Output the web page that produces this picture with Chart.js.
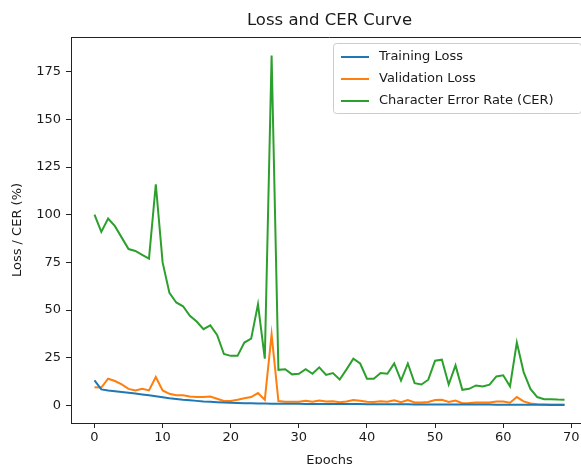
<!DOCTYPE html>
<html>
<head>
<meta charset="utf-8">
<script src="https://cdn.jsdelivr.net/npm/chart.js@4"></script>
<style>
  html, body { margin: 0; padding: 0; background: #ffffff; overflow: hidden; }
  #wrap { position: relative; width: 588px; height: 464px; }
</style>
</head>
<body>
<div id="wrap"><canvas id="c"></canvas></div>
<script>
// ---- data ----
const epochs = [0,1,2,3,4,5,6,7,8,9,10,11,12,13,14,15,16,17,18,19,20,21,22,23,24,25,26,27,28,29,30,31,32,33,34,35,36,37,38,39,40,41,42,43,44,45,46,47,48,49,50,51,52,53,54,55,56,57,58,59,60,61,62,63,64,65,66,67,68,69];
const trainingLoss = [13.1,8.4,7.9,7.5,7.1,6.7,6.3,5.8,5.3,4.8,4.3,3.8,3.4,3.0,2.7,2.4,2.1,1.9,1.7,1.5,1.4,1.3,1.2,1.1,1.0,1.0,0.9,0.9,0.9,0.85,0.85,0.8,0.8,0.8,0.75,0.75,0.7,0.7,0.7,0.7,0.65,0.65,0.65,0.6,0.6,0.6,0.6,0.55,0.55,0.55,0.55,0.5,0.5,0.5,0.5,0.45,0.45,0.45,0.45,0.4,0.4,0.4,0.4,0.4,0.35,0.35,0.35,0.3,0.3,0.3];
const validationLoss = [9.6,9.4,14.0,12.8,11.0,8.7,7.9,8.7,7.9,14.9,7.9,6.1,5.3,5.3,4.7,4.4,4.4,4.7,3.5,2.3,2.3,3.0,3.8,4.4,6.5,3.0,37.3,2.3,2.0,1.9,2.0,2.4,2.0,2.6,2.1,2.2,1.7,2.1,2.8,2.5,1.9,1.8,2.2,2.0,2.7,1.7,2.8,1.6,1.5,1.8,2.9,3.0,1.8,2.6,1.2,1.3,1.5,1.5,1.6,2.1,2.1,1.4,4.4,2.1,1.0,0.6,0.5,0.5,0.5,0.5];
const cer = [100,91,98,94,88,82,81,79,77,116,75,59,54,52,47,44,40,42,37,27,26,26,33,35,53,24.5,183.5,18.7,19,16.3,16.6,19,16.6,20,16,17,13.6,18.9,24.5,22,14,14,17,16.6,22,13,22,11.7,11,13.5,23.5,24,11,21,8.2,8.7,10.5,10,10.9,15.2,15.8,10,33,17.5,8.7,4.4,3.3,3.3,3.1,3.0];
const xTicks = [0,10,20,30,40,50,60,70];
const yTicks = [0,25,50,75,100,125,150,175];
const seriesNames = ['Training Loss','Validation Loss','Character Error Rate (CER)'];
const seriesColors = ['#1f77b4','#ff7f0e','#2ca02c'];

const FONT = "'DejaVu Sans', sans-serif";
const TEXT = '#1a1a1a';

function pts(vals) { return epochs.map((e, i) => ({ x: e, y: vals[i] })); }

const framePlugin = {
  id: 'frame',
  afterDraw(chart) {
    const { ctx, chartArea: a } = chart;
    ctx.save();
    ctx.strokeStyle = '#222';
    ctx.lineWidth = 1;
    ctx.beginPath();
    ctx.moveTo(a.left, a.top + 0.5);
    ctx.lineTo(a.right, a.top + 0.5);
    ctx.moveTo(a.right - 0.5, a.top);
    ctx.lineTo(a.right - 0.5, a.bottom);
    ctx.stroke();
    ctx.restore();
  }
};

const legendPlugin = {
  id: 'mplLegend',
  afterDraw(chart) {
    const { ctx, chartArea: a } = chart;
    const right = a.right - 7, top = a.top + 6, w = 248, h = 70;
    const left = right - w;
    ctx.save();
    ctx.fillStyle = 'rgba(255,255,255,0.8)';
    ctx.strokeStyle = '#cccccc';
    ctx.lineWidth = 1;
    ctx.beginPath();
    ctx.roundRect(left + 0.5, top + 0.5, w, h, 3);
    ctx.fill();
    ctx.stroke();
    ctx.font = '13px ' + FONT;
    ctx.textBaseline = 'middle';
    chart.data.datasets.forEach((ds, i) => {
      const y = top + 14 + i * 22;
      ctx.strokeStyle = ds.borderColor;
      ctx.lineWidth = 2;
      ctx.beginPath();
      ctx.moveTo(left + 8, y);
      ctx.lineTo(left + 36, y);
      ctx.stroke();
      ctx.fillStyle = TEXT;
      ctx.fillText(ds.label, left + 46, y);
    });
    ctx.restore();
  }
};

new Chart(document.getElementById('c'), {
  type: 'line',
  data: {
    datasets: [
      { label: seriesNames[0], data: pts(trainingLoss), borderColor: seriesColors[0], backgroundColor: seriesColors[0] },
      { label: seriesNames[1], data: pts(validationLoss), borderColor: seriesColors[1], backgroundColor: seriesColors[1] },
      { label: seriesNames[2], data: pts(cer), borderColor: seriesColors[2], backgroundColor: seriesColors[2] }
    ]
  },
  options: {
    responsive: true,
    maintainAspectRatio: false,
    animation: false,
    devicePixelRatio: 1,
    elements: {
      point: { radius: 0, hoverRadius: 0 },
      line: { borderWidth: 2, tension: 0 }
    },
    layout: { padding: 0 },
    plugins: {
      legend: { display: false },
      tooltip: { enabled: false },
      title: {
        display: true,
        fullSize: false,
        text: 'Loss and CER Curve',
        color: TEXT,
        font: { family: FONT, size: 16.5, weight: 'normal', lineHeight: 1.2 },
        padding: { top: 10.5, bottom: 6.7 }
      }
    },
    scales: {
      x: {
        type: 'linear',
        min: -3.45,
        max: 72.45,
        afterBuildTicks: s => { s.ticks = xTicks.map(v => ({ value: v })); },
        afterFit: s => { s.height = 41; },
        grid: { display: true, drawOnChartArea: false, drawTicks: true, tickLength: 5, color: '#222', lineWidth: 1 },
        border: { display: true, color: '#222', width: 1 },
        ticks: { color: TEXT, font: { family: FONT, size: 13 }, padding: 2, maxRotation: 0, autoSkip: false },
        title: { display: true, text: 'Epochs', color: TEXT, font: { family: FONT, size: 13, lineHeight: 1.0 }, padding: { top: 0, bottom: -3 } }
      },
      y: {
        type: 'linear',
        min: -9.2,
        max: 193.2,
        afterBuildTicks: s => { s.ticks = yTicks.map(v => ({ value: v })); },
        afterFit: s => { s.width = 71; },
        grid: { display: true, drawOnChartArea: false, drawTicks: true, tickLength: 5, color: '#222', lineWidth: 1 },
        border: { display: true, color: '#222', width: 1 },
        ticks: { color: TEXT, font: { family: FONT, size: 13 }, padding: 5, autoSkip: false },
        title: { display: true, text: 'Loss / CER (%)', color: TEXT, font: { family: FONT, size: 13, lineHeight: 1.2 }, padding: { top: 10, bottom: 0 } }
      }
    }
  },
  plugins: [framePlugin, legendPlugin]
});
</script>
</body>
</html>
